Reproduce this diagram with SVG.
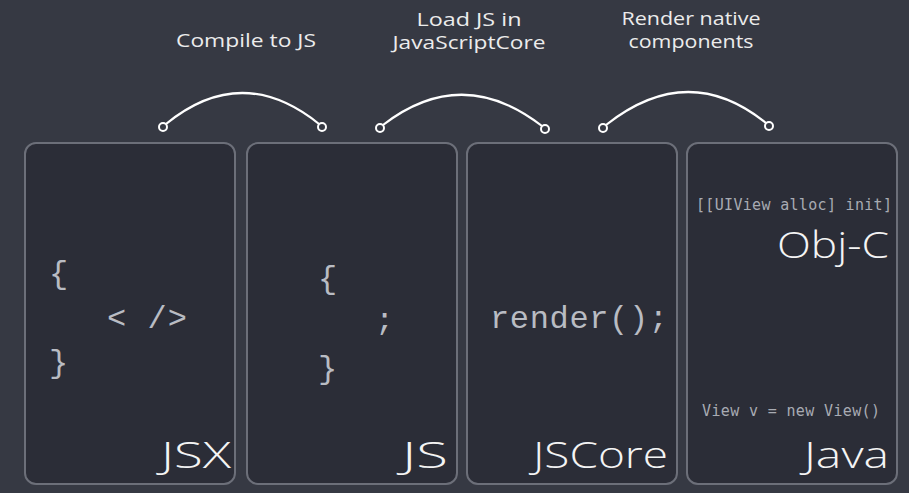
<svg xmlns="http://www.w3.org/2000/svg" width="909" height="493" viewBox="0 0 909 493">
<style>
.bg{fill:#363943}
.box{fill:#2b2d37;stroke:#6c6f79;stroke-width:2}
.cap{font-family:"Open Sans","Liberation Sans",sans-serif;font-size:18px;fill:#ececec;text-anchor:middle}
.big{font-family:"Open Sans","Liberation Sans",sans-serif;font-weight:300;font-size:37px;fill:#f4f4f4;text-anchor:end}
.code{font-family:"Liberation Mono","DejaVu Sans Mono",monospace;font-size:32px;fill:#b9bcc3}
.small{font-family:"DejaVu Sans Mono","Liberation Mono",monospace;font-size:15px;fill:#a8abb3}
.arc{fill:none;stroke:#ffffff;stroke-width:2.2}
.dot{fill:#363943;stroke:#ffffff;stroke-width:2}
</style>
<rect class="bg" x="0" y="0" width="909" height="493"/>
<g id="labels">
<text class="cap" x="246" y="47" textLength="140" lengthAdjust="spacingAndGlyphs">Compile to JS</text>
<text class="cap" x="469" y="26" textLength="105" lengthAdjust="spacingAndGlyphs">Load JS in</text>
<text class="cap" x="469" y="49" textLength="153" lengthAdjust="spacingAndGlyphs">JavaScriptCore</text>
<text class="cap" x="691" y="25" textLength="139" lengthAdjust="spacingAndGlyphs">Render native</text>
<text class="cap" x="691" y="48" textLength="125" lengthAdjust="spacingAndGlyphs">components</text>
</g>
<g id="connectors">
<path class="arc" d="M166,124 Q242,62 319,124"/>
<circle class="dot" cx="163" cy="127" r="4"/>
<circle class="dot" cx="322" cy="127" r="4"/>
<path class="arc" d="M383,125 Q462,64 542,126"/>
<circle class="dot" cx="380" cy="128" r="4"/>
<circle class="dot" cx="545" cy="129" r="4"/>
<path class="arc" d="M606,125 Q688,60 766,123"/>
<circle class="dot" cx="603" cy="128" r="4"/>
<circle class="dot" cx="769" cy="126" r="4"/>
</g>
<g id="jsx">
<rect class="box" x="25" y="143" width="210" height="341" rx="11"/>
<text class="code" x="49" y="283">{</text>
<text class="code" x="107" y="328" textLength="80" lengthAdjust="spacing">&lt; /&gt;</text>
<text class="code" x="49" y="372">}</text>
<text class="big" x="231" y="468" textLength="70" lengthAdjust="spacingAndGlyphs">JSX</text>
</g>
<g id="js">
<rect class="box" x="247" y="143" width="210" height="341" rx="11"/>
<text class="code" x="318" y="288">{</text>
<text class="code" x="375" y="330">;</text>
<text class="code" x="318" y="378">}</text>
<text class="big" x="448" y="468" textLength="46" lengthAdjust="spacingAndGlyphs">JS</text>
</g>
<g id="jscore">
<rect class="box" x="467" y="143" width="210" height="341" rx="11"/>
<text class="code" x="490" y="328" textLength="178" lengthAdjust="spacing">render();</text>
<text class="big" x="668" y="468" textLength="135" lengthAdjust="spacingAndGlyphs">JSCore</text>
</g>
<g id="native">
<rect class="box" x="687" y="143" width="210" height="341" rx="11"/>
<text class="small" x="696" y="210" textLength="196" lengthAdjust="spacing">[[UIView alloc] init]</text>
<text class="big" x="889" y="258" textLength="112" lengthAdjust="spacingAndGlyphs">Obj-C</text>
<text class="small" x="702" y="416" textLength="178" lengthAdjust="spacing">View v = new View()</text>
<text class="big" x="889" y="468" textLength="85" lengthAdjust="spacingAndGlyphs">Java</text>
</g>
</svg>
